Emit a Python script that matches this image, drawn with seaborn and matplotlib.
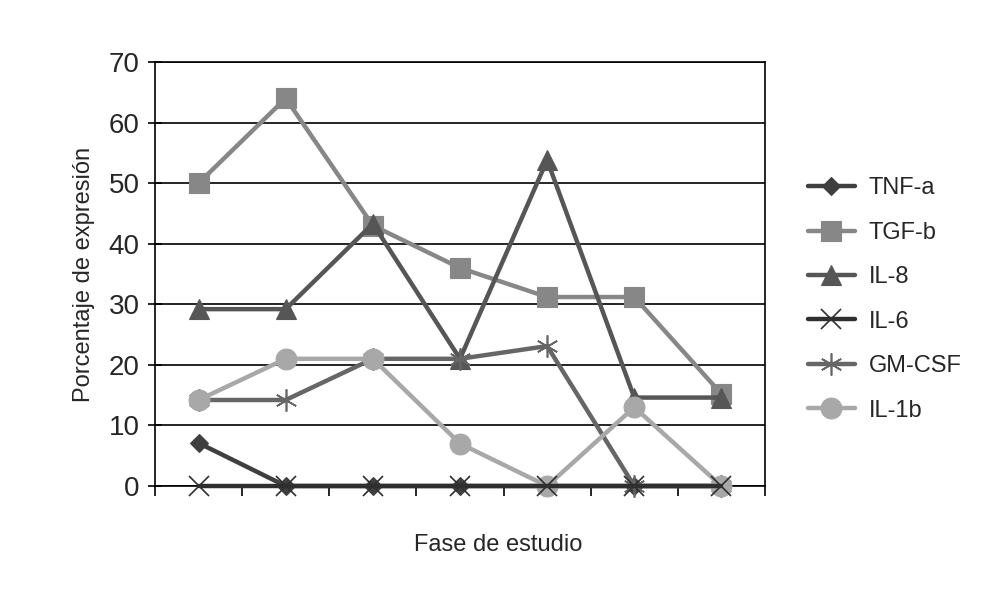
import matplotlib
matplotlib.use("Agg")
import matplotlib.pyplot as plt
import seaborn as sns
import pandas as pd
import numpy as np

fases = [1, 2, 3, 4, 5, 6, 7]
tnf_a = [7.1, 0, 0, 0, 0, 0, 0]
tgf_b = [50, 64, 43, 36, 31.2, 31.2, 15.2]
il_8 = [29.2, 29.2, 43.3, 21, 53.8, 14.6, 14.6]
il_6 = [0, 0, 0, 0, 0, 0, 0]
gm_csf = [14.2, 14.2, 21, 21, 23.1, 0, 0]
il_1b = [14.2, 21, 21, 7, 0, 13, 0]

series_names = ["TNF-a", "TGF-b", "IL-8", "IL-6", "GM-CSF", "IL-1b"]
series_vals = [tnf_a, tgf_b, il_8, il_6, gm_csf, il_1b]

sns.set_theme(style="white")
plt.rcParams['font.family'] = ['Liberation Sans', 'DejaVu Sans']

colors = ["#3f3f3f", "#878787", "#565656", "#2f2f2f", "#666666", "#a8a8a8"]
markers = ["D", "s", "^", "x", (6, 2, 0), "o"]
msizes = [9, 14, 14, 15, 16, 15]
zorders = [3, 4, 5, 9, 6, 7]

fig = plt.figure(figsize=(9.87, 6.08), dpi=100)
ax = fig.add_axes([155/987, 1-486/608, 610/987, 424/608])

for i in range(len(series_names)):
    df = pd.DataFrame({"fase": fases, "val": series_vals[i]})
    sns.lineplot(data=df, x="fase", y="val", ax=ax, color=colors[i], lw=3.2,
                 marker=markers[i], markersize=msizes[i], markeredgecolor=colors[i],
                 markeredgewidth=1.2 if i in (3, 4) else 0.8, label=series_names[i],
                 zorder=zorders[i], clip_on=False)

ax.set_xlim(0.5, 7.5)
ax.set_ylim(0, 70)
ax.set_yticks(range(0, 71, 10))
ax.yaxis.grid(True, color="black", lw=1.2, zorder=1)
ax.set_axisbelow(True)
ax.set_xticks(np.arange(0.5, 7.6, 1))
ax.set_xticklabels([])
ax.tick_params(axis="y", direction="inout", length=10, width=1.2, labelsize=20, pad=6, left=True, color="black")
ax.tick_params(axis="x", direction="out", length=7, width=1.2, bottom=True, color="black")
for s in ax.spines.values():
    s.set_color("black")
    s.set_linewidth(1.2)
    s.set_zorder(0.5)
ax.set_xlabel("")
ax.set_ylabel("Porcentaje de expresión", fontsize=17, labelpad=10)
fig.text(498/987, 1-545/608, "Fase de estudio", fontsize=17, ha="center", va="center")

h, l = ax.get_legend_handles_labels()
hd = dict(zip(l, h))
leg = ax.legend([hd[n] for n in series_names], series_names, loc="center left",
                bbox_to_anchor=(1.035, 0.44), frameon=False, fontsize=17,
                handlelength=2.0, labelspacing=0.95, handletextpad=0.6)

fig.savefig("out.png", dpi=100)
